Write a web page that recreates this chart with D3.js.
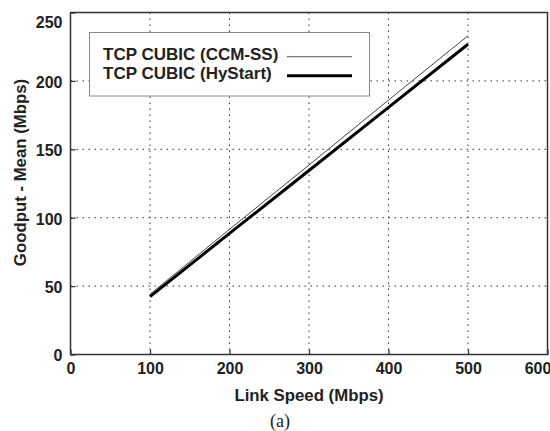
<!DOCTYPE html>
<html>
<head>
<meta charset="utf-8">
<script src="https://cdn.jsdelivr.net/npm/d3@7"></script>
<style>
  body { margin: 0; background: #fff; }
  svg { display: block; }
  .tick text { font-family: "Liberation Sans", Arial, sans-serif; font-weight: bold; font-size: 16px; fill: #222; }
</style>
</head>
<body>
<div id="chart"></div>
<script>
const linkSpeeds = [100, 200, 300, 400, 500];
const ccmSS = [44, 91.5, 138.5, 186, 233];
const hyStart = [42.3, 88.5, 134.5, 180.7, 226.8];
const seriesNames = ["TCP CUBIC (CCM-SS)", "TCP CUBIC (HyStart)"];
const xTicks = [0, 100, 200, 300, 400, 500, 600];
const yTicks = [0, 50, 100, 150, 200, 250];

const W = 550, H = 431;
const margin = { top: 12.5, right: 2.5, bottom: 76.5, left: 70.5 };
const width = W - margin.left - margin.right,
  height = H - margin.top - margin.bottom;

const svg = d3.select("#chart").append("svg").attr("width", W).attr("height", H);
const g = svg.append("g").attr("transform", "translate(" + margin.left + "," + margin.top + ")");

const x = d3.scaleLinear().domain([0, 600]).range([0, width]);
const y = d3.scaleLinear().domain([0, 250]).range([height, 0]);

// dotted grid
g.append("g")
  .selectAll("line")
  .data(xTicks.slice(1, -1))
  .join("line")
  .attr("x1", (d) => x(d)).attr("x2", (d) => x(d))
  .attr("y1", 0).attr("y2", height)
  .attr("stroke", "#333").attr("stroke-width", 1).attr("stroke-dasharray", "1.5,4.5");
g.append("g")
  .selectAll("line")
  .data(yTicks.slice(1, -1))
  .join("line")
  .attr("x1", 0).attr("x2", width)
  .attr("y1", (d) => y(d)).attr("y2", (d) => y(d))
  .attr("stroke", "#333").attr("stroke-width", 1).attr("stroke-dasharray", "1.5,4.5");

// axes with inward ticks; end labels nudged inside the page like the original
g.append("g")
  .attr("transform", "translate(0," + height + ")")
  .call(d3.axisBottom(x).tickValues(xTicks).tickSize(-5).tickPadding(8).tickSizeOuter(0))
  .call((a) => a.select(".domain").remove())
  .call((a) => a.selectAll(".tick line").attr("stroke", "#333").attr("stroke-width", 1.3))
  .call((a) => a.selectAll(".tick text").attr("y", 19.5).attr("dy", 0)
    .attr("x", (d) => (d === 600 ? -10 : 0)));
g.append("g")
  .call(d3.axisLeft(y).tickValues(yTicks).tickSize(-5).tickPadding(8).tickSizeOuter(0))
  .call((a) => a.select(".domain").remove())
  .call((a) => a.selectAll(".tick line").attr("stroke", "#333").attr("stroke-width", 1.3))
  .call((a) => a.selectAll(".tick text").attr("dy", (d) => (d === 250 ? "0.95em" : "0.4em")));

// frame
g.append("rect")
  .attr("width", width).attr("height", height)
  .attr("fill", "none").attr("stroke", "#333").attr("stroke-width", 1.5);

const line = d3.line().x((d) => x(d[0])).y((d) => y(d[1]));
g.append("path")
  .datum(linkSpeeds.map((s, i) => [s, ccmSS[i]]))
  .attr("d", line).attr("fill", "none").attr("stroke", "#444").attr("stroke-width", 1);
g.append("path")
  .datum(linkSpeeds.map((s, i) => [s, hyStart[i]]))
  .attr("d", line).attr("fill", "none").attr("stroke", "#000").attr("stroke-width", 3);

// legend
const legend = svg.append("g");
legend.append("rect")
  .attr("x", 89.5).attr("y", 32.5).attr("width", 280).attr("height", 63.5)
  .attr("fill", "#fff").attr("stroke", "#888").attr("stroke-width", 1);
const styles = [{ c: "#777", w: 1.2 }, { c: "#000", w: 3 }];
seriesNames.forEach((name, i) => {
  legend.append("text")
    .attr("x", 103).attr("y", 59.5 + i * 19)
    .attr("font-family", "Liberation Sans, Arial, sans-serif")
    .attr("font-weight", "bold").attr("font-size", 17).attr("fill", "#222")
    .text(name);
  legend.append("line")
    .attr("x1", 287).attr("x2", 352)
    .attr("y1", 56.7 + i * 19).attr("y2", 56.7 + i * 19)
    .attr("stroke", styles[i].c).attr("stroke-width", styles[i].w);
});

// axis titles
svg.append("text")
  .attr("x", margin.left + width / 2).attr("y", 401)
  .attr("text-anchor", "middle")
  .attr("font-family", "Liberation Sans, Arial, sans-serif")
  .attr("font-weight", "bold").attr("font-size", 16.8).attr("fill", "#222")
  .text("Link Speed (Mbps)");
svg.append("text")
  .attr("transform", "translate(26,172.5) rotate(-90)")
  .attr("text-anchor", "middle")
  .attr("font-family", "Liberation Sans, Arial, sans-serif")
  .attr("font-weight", "bold").attr("font-size", 16.8).attr("fill", "#222")
  .text("Goodput - Mean (Mbps)");

svg.append("text")
  .attr("x", 280).attr("y", 427)
  .attr("text-anchor", "middle")
  .attr("font-family", "Liberation Serif, serif")
  .attr("font-size", 18).attr("fill", "#222")
  .text("(a)");
</script>
</body>
</html>
